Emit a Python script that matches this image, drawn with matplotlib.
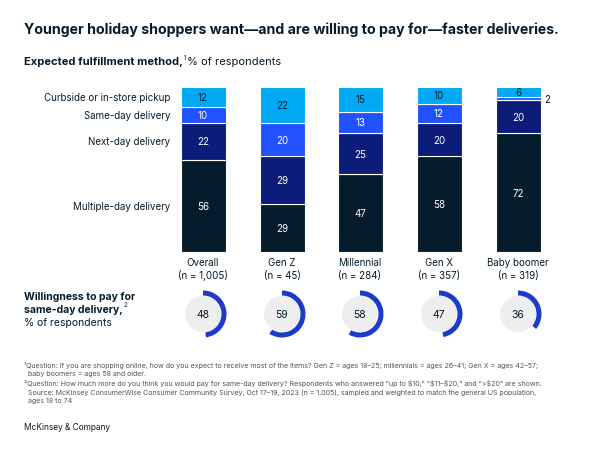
import matplotlib
matplotlib.use("Agg")
import matplotlib.pyplot as plt
from matplotlib.patches import Wedge, Circle

groups = ["Overall", "Gen Z", "Millennial", "Gen X", "Baby boomer"]
ns = ["(n = 1,005)", "(n = 45)", "(n = 284)", "(n = 357)", "(n = 319)"]
multiple_day = [56, 29, 47, 58, 72]
next_day = [22, 29, 25, 20, 20]
same_day = [10, 20, 13, 12, 2]
curbside = [12, 22, 15, 10, 6]
willing = [48, 59, 58, 47, 36]
series_names = ["Multiple-day delivery", "Next-day delivery", "Same-day delivery", "Curbside or in-store pickup"]
colors = ["#051c2c", "#0b1d78", "#2251ff", "#00a9f4"]
text_colors = ["white", "white", "white", "#051c2c"]

plt.rcParams['font.family'] = ['Inter', 'DejaVu Sans']
plt.rcParams['text.parse_math'] = False
W, H = 591, 452
fig = plt.figure(figsize=(W/100, H/100), dpi=100)
bg = fig.add_axes([0, 0, 1, 1])
bg.set_xlim(0, W); bg.set_ylim(H, 0); bg.axis('off')

centers = [203, 282, 360, 439, 518]
bw = 45
top, bottom = 88, 253
ax = fig.add_axes([0, 1 - bottom/H, 1, (bottom-top)/H])
ax.set_xlim(0, W); ax.set_ylim(0, 100); ax.axis('off')
data = [multiple_day, next_day, same_day, curbside]
base = [0]*5
for si, vals in enumerate(data):
    ax.bar(centers, vals, bw, bottom=base, color=colors[si], edgecolor='white', linewidth=0.8)
    for i, v in enumerate(vals):
        y = base[i] + v/2
        if v >= 5:
            ax.text(centers[i], y, str(v), ha='center', va='center', color=text_colors[si], fontsize=7)
        else:
            ax.text(centers[i] + bw/2 + 4, y, str(v), ha='left', va='center', color='#051c2c', fontsize=7)
    base = [b+v for b, v in zip(base, vals)]
b = 0
for si, vals in enumerate(data):
    ax.text(170, b + vals[0]/2, series_names[si], ha='right', va='center', fontsize=7, color='#051c2c')
    b += vals[0]

bg.text(24, 30, "Younger holiday shoppers want—and are willing to pay for—faster deliveries.",
        fontsize=10.2, fontweight='bold', color='#051c2c', va='center')
bg.text(24, 62, "Expected fulfillment method,", fontsize=8, fontweight='bold', color='#051c2c', va='center')
bg.text(184, 58, "1", fontsize=4.5, color='#051c2c', va='center')
bg.text(187, 62, "% of respondents", fontsize=8, color='#051c2c', va='center')

for i, c in enumerate(centers):
    bg.text(c, 263, groups[i], ha='center', va='center', fontsize=7, color='#051c2c')
    bg.text(c, 276, ns[i], ha='center', va='center', fontsize=7, color='#051c2c')
    cy = 315
    bg.add_patch(Circle((c, cy), 18, color='#eeeeee', lw=0))
    bg.add_patch(Wedge((c, cy), 23.5, -90, -90 + 360*willing[i]/100, width=5, color='#1c3bc9', lw=0))
    bg.text(c, cy, str(willing[i]), ha='center', va='center', fontsize=7.5, color='#051c2c')

bg.text(24, 297, "Willingness to pay for", fontsize=7.5, fontweight='bold', color='#051c2c', va='center')
bg.text(24, 310, "same-day delivery,", fontsize=7.5, fontweight='bold', color='#051c2c', va='center')
bg.text(123, 305, "2", fontsize=4.5, color='#051c2c', va='center')
bg.text(24, 323, "% of respondents", fontsize=7.5, color='#051c2c', va='center')

fn = ("¹Question: If you are shopping online, how do you expect to receive most of the items? Gen Z = ages 18–25; millennials = ages 26–41; Gen X = ages 42–57;\n"
      "  baby boomers = ages 58 and older.\n"
      "²Question: How much more do you think you would pay for same-day delivery? Respondents who answered \"up to $10,\" \"$11–$20,\" and \">$20\" are shown.\n"
      "  Source: McKinsey ConsumerWise Consumer Community Survey, Oct 17–19, 2023 (n = 1,005), sampled and weighted to match the general US population,\n"
      "  ages 18 to 74")
bg.text(24, 362, fn, fontsize=5.1, color='#555555', va='top', linespacing=1.45)
bg.text(24, 428, "McKinsey & Company", fontsize=6, color='#051c2c', va='center')
fig.savefig("out.png", dpi=100)
